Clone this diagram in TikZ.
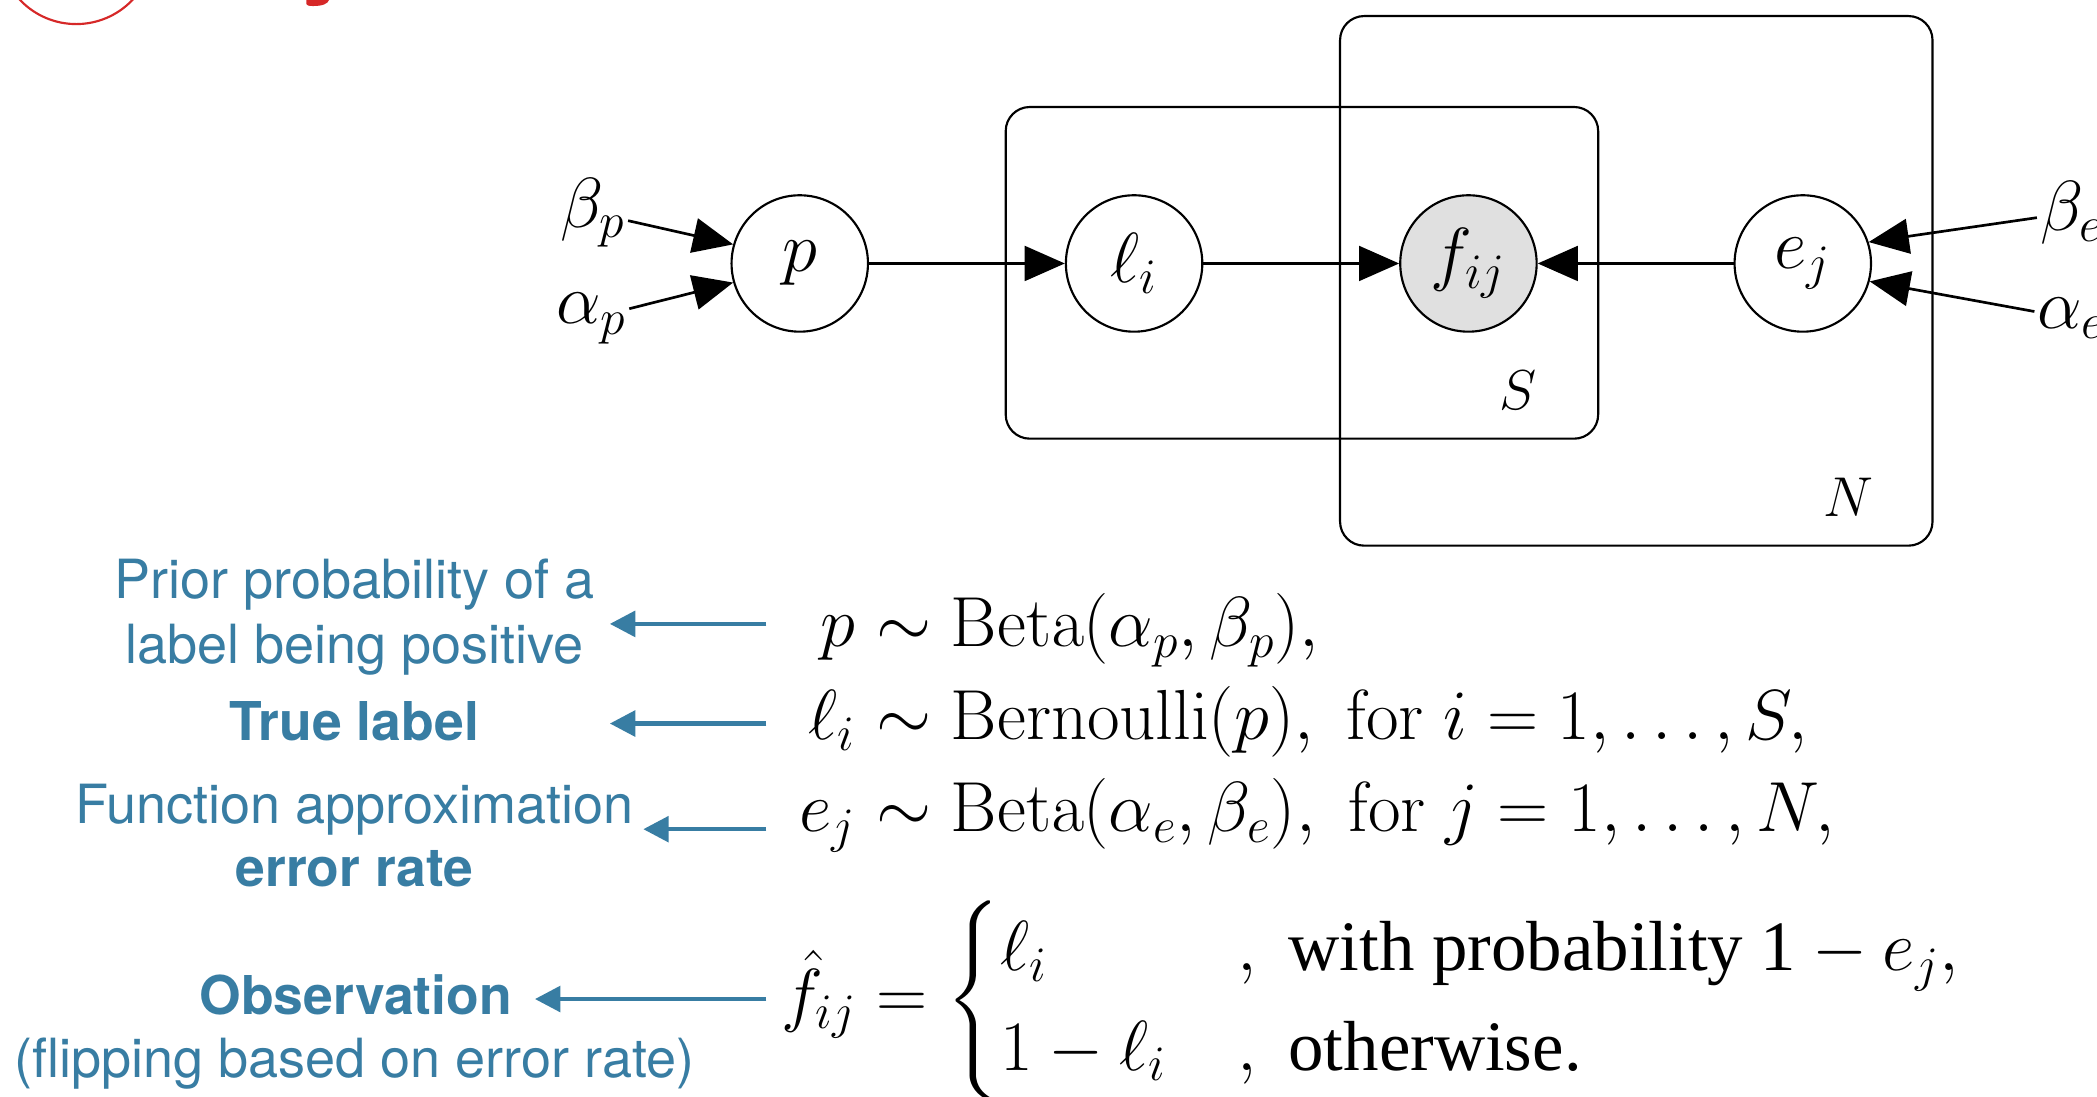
\RequirePackage{fix-cm}
\documentclass[tikz,border=0pt]{standalone}
\usepackage{amsmath}
\usepackage[no-math]{fontspec}
\newfontfamily\tnr{Liberation Serif}
\newfontfamily\heros{TeX Gyre Heros}
\usetikzlibrary{arrows.meta}
\definecolor{lblue}{RGB}{56,125,163}
\definecolor{obsgray}{RGB}{224,224,224}
\definecolor{slidered}{RGB}{214,40,40}
\begin{document}
\begin{tikzpicture}[x=0.5pt,y=-0.5pt,
  mathfont/.style={font=\fontsize{26.5}{31}\selectfont},
  var/.style={circle, draw, fill=white, line width=0.8pt, minimum size=51pt, inner sep=0pt, mathfont},
  obs/.style={var, fill=obsgray},
  param/.style={inner sep=1pt, mathfont},
  plate/.style={draw, line width=0.8pt, rounded corners=9pt},
  platelabel/.style={inner sep=0pt, font=\fontsize{21}{25}\selectfont},
  arr/.style={line width=1pt, -{Triangle[length=15pt,width=13pt]}},
  barr/.style={draw=lblue, line width=1.7pt, -{Triangle[length=9.5pt,width=9.5pt]}},
  note/.style={text=lblue, inner sep=0pt, font=\heros\fontsize{20.2}{24}\selectfont},
  bnote/.style={text=lblue, inner sep=0pt, font=\heros\bfseries\fontsize{20}{24}\selectfont},
  eq/.style={mathfont, inner sep=0pt}
]
\useasboundingbox (0,0) rectangle (1568,820);
\fill[white] (0,0) rectangle (1568,820);
\clip (0,0) rectangle (1568,820);

% slide header fragments
\draw[slidered, line width=0.8pt] (57,-40) circle[radius=29pt];
\fill[slidered] (229,0) -- (246,0) .. controls (245,3) and (241,4.5) .. (234,4.5) .. controls (231,4.5) and (229,4) .. (229,3) -- cycle;

% plates
\draw[plate] (752,80) rectangle (1195,328);
\draw[plate] (1002,12) rectangle (1445,408);
\node[platelabel] (Slab) at (1135,292) {$S$};
\node[platelabel] (Nlab) at (1382,372) {$N$};

% variables
\node[var] (p) at (598,197) {$p$};
\node[var] (l) at (848,197) {$\ell_i$};
\node[obs] (f) at (1098,197) {$f_{ij}$};
\node[var] (e) at (1348,197) {$e_j$};
\node[param] (bp) at (443,159) {$\beta_p$};
\node[param] (ap) at (442,238) {$\alpha_p$};
\node[param] (be) at (1549,159) {$\beta_e$};
\node[param] (ae) at (1549,238) {$\alpha_e$};

\draw[arr] (p) -- (l);
\draw[arr] (l) -- (f);
\draw[arr] (e) -- (f);
\draw[arr] (bp) -- (p.164);
\draw[arr] (ap) -- (p.196);
\draw[arr] (be) -- (e.18);
\draw[arr] (ae) -- (e.-15);

% equations
\node[eq, anchor=base east] (e1l) at (640,483.5) {$p$};
\node[eq, anchor=base west] (e1r) at (640,483.5) {${}\sim\mathrm{Beta}(\alpha_p,\beta_p),$};
\node[eq, anchor=base east] (e2l) at (640,553) {$\ell_i$};
\node[eq, anchor=base west] (e2r) at (640,553) {${}\sim\mathrm{Bernoulli}(p),\ \mathrm{for}\; i=1,\dots,S,$};
\node[eq, anchor=base east] (e3l) at (640,622) {$e_j$};
\node[eq, anchor=base west] (e3r) at (640,622) {${}\sim\mathrm{Beta}(\alpha_e,\beta_e),\ \mathrm{for}\; j=1,\dots,N,$};
\node[eq, anchor=west] (e4) at (584,748) {$\hat{f}_{ij} = \begin{cases} \ell_i & ,\;\text{\tnr with probability 1} - e_j,\\ 1-\ell_i & ,\;\text{\tnr otherwise.}\end{cases}$};

% notes
\node[note, anchor=base] (n1a) at (265,447.6) {Prior probability of a};
\node[note, anchor=base] (n1b) at (265,496) {label being positive};
\node[bnote, anchor=base] (n2) at (265,553.8) {True label};
\node[note, anchor=base] (n3a) at (265,615.5) {Function approximation};
\node[bnote, anchor=base] (n3b) at (265,662.6) {error rate};
\node[bnote, anchor=base] (n4a) at (266,758.4) {Observation};
\node[note, anchor=base] (n4b) at (265,805.5) {(flipping based on error rate)};

\coordinate (t1) at (573,466.5); \coordinate (h1) at (456,466.5);
\coordinate (t2) at (573,541);   \coordinate (h2) at (456,541);
\coordinate (t3) at (573,620);   \coordinate (h3) at (481,620);
\coordinate (t4) at (573,747);   \coordinate (h4) at (400,747);
\draw[barr] (t1) -- (h1);
\draw[barr] (t2) -- (h2);
\draw[barr] (t3) -- (h3);
\draw[barr] (t4) -- (h4);
\end{tikzpicture}
\end{document}
